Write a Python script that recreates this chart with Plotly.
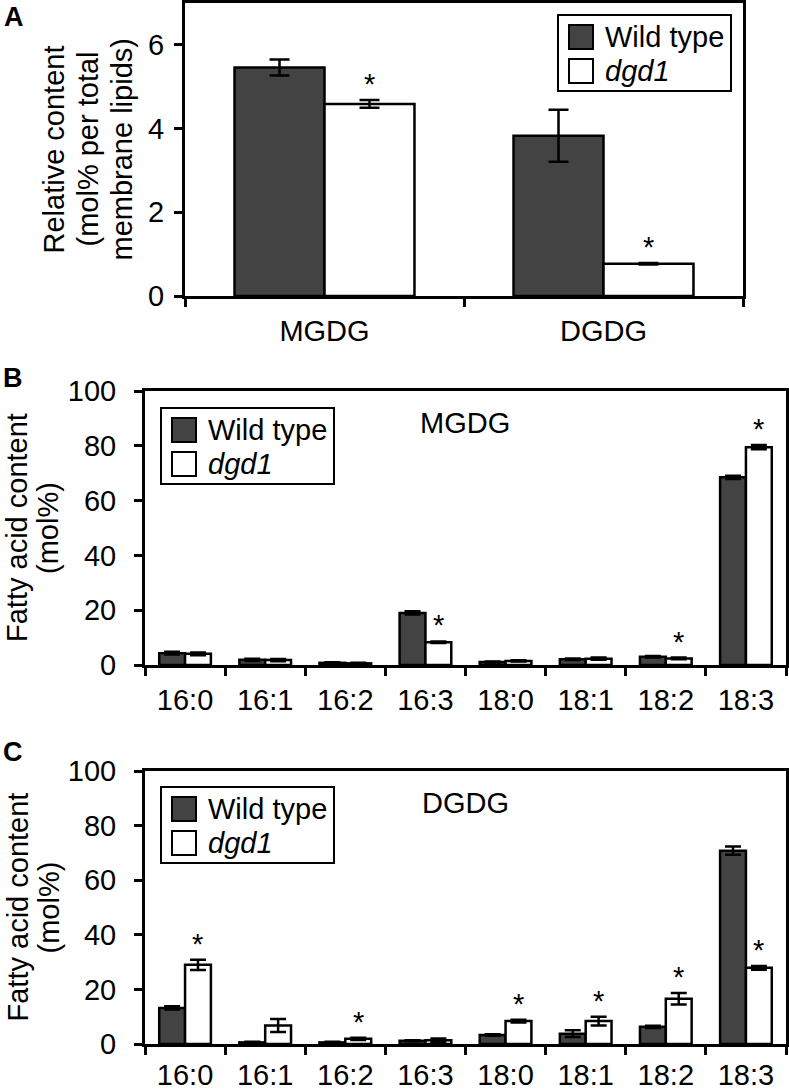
import plotly.graph_objects as go

W, H = 789, 1091

# ---------------- data ----------------
series_names = ["Wild type", "dgd1"]

lipid_classes = ["MGDG", "DGDG"]
wt_a = [5.46, 3.83]
wt_a_err = [0.19, 0.62]
dgd_a = [4.59, 0.77]
dgd_a_err = [0.09, 0.02]
sig_a = [True, True]

fatty_acids = ["16:0", "16:1", "16:2", "16:3", "18:0", "18:1", "18:2", "18:3"]

wt_b = [4.3, 1.9, 0.8, 19.0, 1.1, 2.1, 3.0, 68.5]
wt_b_err = [0.5, 0.4, 0.2, 0.6, 0.2, 0.3, 0.3, 0.6]
dgd_b = [4.1, 1.8, 0.6, 8.3, 1.5, 2.3, 2.4, 79.5]
dgd_b_err = [0.5, 0.4, 0.2, 0.3, 0.2, 0.4, 0.3, 0.8]
sig_b = [False, False, False, True, False, False, True, True]

wt_c = [13.2, 0.6, 0.6, 1.2, 3.3, 3.8, 6.3, 70.8]
wt_c_err = [0.6, 0.2, 0.2, 0.2, 0.3, 1.2, 0.4, 1.5]
dgd_c = [29.0, 6.8, 1.9, 1.4, 8.4, 8.4, 16.6, 27.9]
dgd_c_err = [1.9, 2.4, 0.4, 0.6, 0.5, 1.6, 2.1, 0.7]
sig_c = [True, False, True, False, True, True, True, True]

yticks_a = [0, 2, 4, 6]
yticks_bc = [0, 20, 40, 60, 80, 100]

title_a = ["Relative content", "(mol% per total", "membrane lipids)"]
title_bc = ["Fatty acid content", "(mol%)"]

# ---------------- style ----------------
FONT = "Liberation Sans, Arial, sans-serif"
DARK = "#434343"
BARGAP = 0.355
TICK_SIZE = 29
TITLE_SIZE = 29


def fx(px):
    return px / W


def fy(py):
    return 1 - py / H


# panel geometry in pixels (left, right, top, bottom)
panels = [
    dict(key="", box=(185, 743, 3, 296), cats=lipid_classes, wt=wt_a, wte=wt_a_err,
         dg=dgd_a, dge=dgd_a_err, sig=sig_a, yr=[0, 7], yt=yticks_a,
         title=title_a, title_x=[53, 87, 121], xstand=7,
         cap=10, lstand=4, legend=(558, 15), letter=("A", 14, 17), inner=None),
    dict(key="2", box=(145, 786, 391, 665), cats=fatty_acids, wt=wt_b, wte=wt_b_err,
         dg=dgd_b, dge=dgd_b_err, sig=sig_b, yr=[0, 100], yt=yticks_bc,
         title=title_bc, title_x=[17, 48], xstand=7,
         cap=8, lstand=12, legend=(161, 408), letter=("B", 13, 378), inner=("MGDG", 465, 423)),
    dict(key="3", box=(145, 786, 771, 1044), cats=fatty_acids, wt=wt_c, wte=wt_c_err,
         dg=dgd_c, dge=dgd_c_err, sig=sig_c, yr=[0, 100], yt=yticks_bc,
         title=title_bc, title_x=[17, 48], xstand=3,
         cap=8, lstand=12, legend=(161, 787), letter=("C", 13, 752), inner=("DGDG", 465, 803)),
]

fig = go.Figure()
annotations = []
shapes = []

for p in panels:
    k = p["key"]
    xa, ya = "x" + k, "y" + k
    common = dict(xaxis=xa, yaxis=ya, showlegend=False, hoverinfo="x+y")
    fig.add_trace(go.Bar(
        x=p["cats"], y=p["wt"], name=series_names[0], offsetgroup="wt",
        error_y=dict(type="data", array=p["wte"], color="black", thickness=2.5, width=p["cap"]),
        marker=dict(color=DARK, line=dict(color="black", width=2.5)), **common))
    fig.add_trace(go.Bar(
        x=p["cats"], y=p["dg"], name=series_names[1], offsetgroup="dg",
        error_y=dict(type="data", array=p["dge"], color="black", thickness=2.5, width=p["cap"]),
        marker=dict(color="white", line=dict(color="black", width=2.5)), **common))

    l, r, t, b = p["box"]
    n = len(p["cats"])
    axis_line = dict(showline=True, linecolor="black", linewidth=3, mirror=True,
                     ticks="outside", ticklen=8, tickwidth=2.5, tickcolor="black",
                     showgrid=False, zeroline=False, fixedrange=True, automargin=False,
                     tickfont=dict(family=FONT, size=TICK_SIZE, color="black"))
    fig.update_layout({
        "xaxis" + k: dict(domain=[fx(l), fx(r)], anchor=ya, type="category",
                          range=[-0.5, n - 0.5], tickson="boundaries",
                          ticklabelstandoff=p["xstand"], **axis_line),
        "yaxis" + k: dict(domain=[fy(b), fy(t)], anchor=xa, range=p["yr"],
                          tickvals=p["yt"], ticklabelstandoff=p["lstand"],
                          **axis_line),
    })

    # y-axis title, one rotated line each
    for line, tx in zip(p["title"], p["title_x"]):
        annotations.append(dict(x=fx(tx), y=fy((t + b) / 2), xref="paper", yref="paper",
                                text=line, textangle=-90, showarrow=False,
                                xanchor="center", yanchor="middle",
                                font=dict(family=FONT, size=TITLE_SIZE, color="black")))

    # significance asterisks above dgd1 bars
    for i, s in enumerate(p["sig"]):
        if s:
            annotations.append(dict(
                x=i + (1 - BARGAP) / 4, y=p["dg"][i] + p["dge"][i], xref=xa, yref=ya,
                text="*", showarrow=False, yanchor="middle", xanchor="center", yshift=16,
                font=dict(family=FONT, size=29, color="black")))

    # legend drawn as a boxed key
    bx, by = p["legend"]
    shapes.append(dict(type="rect", xref="paper", yref="paper",
                       x0=fx(bx), x1=fx(bx + 173), y0=fy(by + 76), y1=fy(by),
                       line=dict(color="black", width=2), fillcolor="white"))
    for j, (nm, col) in enumerate(zip(series_names, [DARK, "white"])):
        sy = by + 10 + 34 * j
        shapes.append(dict(type="rect", xref="paper", yref="paper",
                           x0=fx(bx + 11), x1=fx(bx + 35), y0=fy(sy + 24), y1=fy(sy),
                           line=dict(color="black", width=2), fillcolor=col))
        label = nm if j == 0 else "<i>%s</i>" % nm
        annotations.append(dict(x=fx(bx + 45), y=fy(sy + 12), xref="paper", yref="paper",
                                text=label, showarrow=False, xanchor="left", yanchor="middle",
                                font=dict(family=FONT, size=29, color="black")))

    letter, lx, ly = p["letter"]
    annotations.append(dict(x=fx(lx), y=fy(ly), xref="paper", yref="paper",
                            text="<b>%s</b>" % letter, showarrow=False,
                            xanchor="center", yanchor="middle",
                            font=dict(family=FONT, size=27, color="black")))
    if p["inner"]:
        txt, ix, iy = p["inner"]
        annotations.append(dict(x=fx(ix), y=fy(iy), xref="paper", yref="paper",
                                text=txt, showarrow=False, xanchor="center", yanchor="middle",
                                font=dict(family=FONT, size=29, color="black")))

fig.update_layout(
    width=W, height=H,
    margin=dict(l=0, r=0, t=0, b=0, autoexpand=False),
    paper_bgcolor="white", plot_bgcolor="white",
    barmode="group", bargap=BARGAP, bargroupgap=0,
    font=dict(family=FONT, color="black"),
    annotations=annotations, shapes=shapes,
)

fig.write_html("out.html", config={"displayModeBar": False},
               post_script="document.body.style.margin='0px';document.body.style.overflow='hidden';")
